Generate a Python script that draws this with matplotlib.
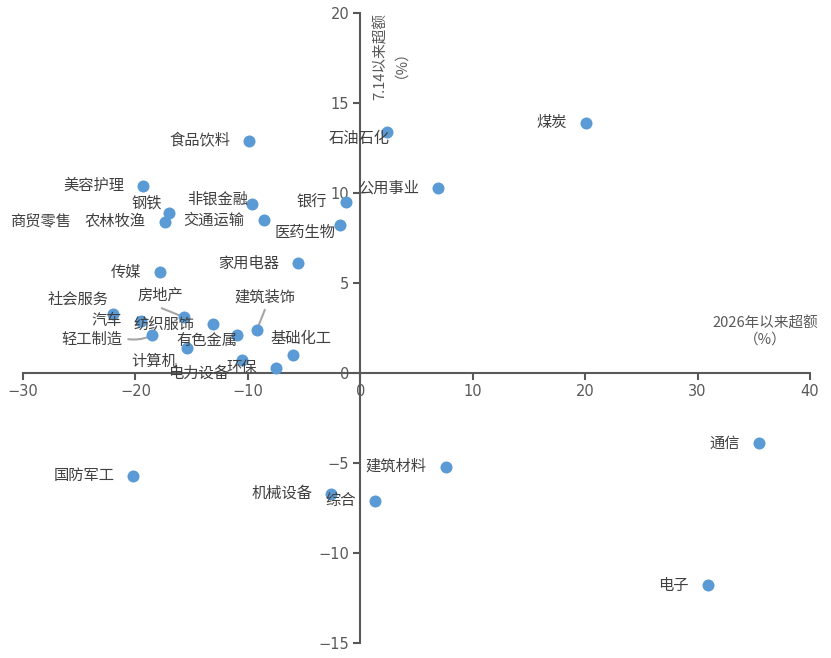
import matplotlib
matplotlib.use('Agg')
import matplotlib.pyplot as plt

plt.rcParams['font.family'] = ['Noto Sans CJK SC', 'DejaVu Sans']
plt.rcParams['axes.unicode_minus'] = True

# 行业: (2026年以来超额, 7.14以来超额)
names = ['煤炭', '石油石化', '公用事业', '食品饮料', '美容护理', '钢铁', '非银金融',
         '农林牧渔', '交通运输', '商贸零售', '银行', '医药生物', '家用电器', '传媒',
         '社会服务', '汽车', '房地产', '纺织服饰', '轻工制造', '有色金属', '建筑装饰',
         '计算机', '基础化工', '电力设备', '环保', '通信', '建筑材料', '国防军工',
         '机械设备', '综合', '电子']
x_ytd = [20.1, 2.4, 6.9, -9.9, -19.3, -17.0, -9.6,
         -17.4, -8.6, -26.6, -1.3, -1.8, -5.5, -17.8,
         -22.0, -19.5, -15.7, -13.1, -18.5, -11.0, -9.2,
         -15.4, -6.0, -10.5, -7.5, 35.5, 7.6, -20.2,
         -2.6, 1.3, 30.9]
y_since714 = [13.9, 13.4, 10.3, 12.9, 10.4, 8.9, 9.4,
              8.4, 8.5, 8.4, 9.5, 8.2, 6.1, 5.6,
              3.3, 2.9, 3.1, 2.7, 2.1, 2.1, 2.4,
              1.4, 1.0, 0.7, 0.3, -3.9, -5.2, -5.7,
              -6.7, -7.1, -11.8]

xticks = [-30, -20, -10, 0, 10, 20, 30, 40]
yticks = [-15, -10, -5, 0, 5, 10, 15, 20]

# label offsets in pixels (dx, dy up), alignment; default: left of point
default_off = (-19, 0, 'right')
label_off = {
    '石油石化': (2, -7, 'right'),
    '钢铁': (-7, 10, 'right'),
    '非银金融': (-4, 5, 'right'),
    '商贸零售': (10, 0, 'right'),
    '医药生物': (-5, -7, 'right'),
    '社会服务': (-4, 14, 'right'),
    '房地产': (-23, 22, 'center'),
    '轻工制造': (-30, -4, 'right'),
    '有色金属': (1, -5, 'right'),
    '建筑装饰': (8, 33, 'center'),
    '计算机': (-10, -14, 'right'),
    '基础化工': (8, 16, 'center'),
    '电力设备': (-13, -13, 'right'),
}
# leader lines: (start dx, dy) in pixels relative to point
leaders = {
    '房地产': (-22, 9),
    '建筑装饰': (8, 20),
    '轻工制造': (-24, -4),
}

fig = plt.figure(figsize=(8.31, 6.58), dpi=100)
ax = fig.add_axes([23 / 831, 1 - 643 / 658, (810 - 23) / 831, (643 - 13) / 658])

axis_c = '#595959'
ax.scatter(x_ytd, y_since714, s=75, color='#5B9BD5', zorder=3, linewidths=0)

px = 0.72
for n, xv, yv in zip(names, x_ytd, y_since714):
    dx, dy, ha = label_off.get(n, default_off)
    kw = {}
    if n == '商贸零售':
        kw['bbox'] = dict(facecolor='white', edgecolor='none', pad=1)
    ax.annotate(n, (xv, yv), xytext=(dx * px, dy * px), textcoords='offset points',
                ha=ha, va='center', fontsize=11, color='#404040', zorder=4, **kw)
    if n in leaders:
        lx, ly = leaders[n]
        ax.annotate('', (xv, yv), xytext=(lx * px, ly * px), textcoords='offset points',
                    arrowprops=dict(arrowstyle='-', color='#A6A6A6', lw=1.5,
                                    shrinkA=0, shrinkB=3,
                                    connectionstyle='arc3,rad=0.15' if n == '轻工制造' else 'arc3'),
                    zorder=2)

ax.set_xlim(-30, 40)
ax.set_ylim(-15, 20)
ax.set_xticks(xticks)
ax.set_yticks(yticks)
ax.spines['left'].set_position(('data', 0))
ax.spines['bottom'].set_position(('data', 0))
ax.spines['right'].set_visible(False)
ax.spines['top'].set_visible(False)
for s in ('left', 'bottom'):
    ax.spines[s].set_color(axis_c)
    ax.spines[s].set_linewidth(1.5)
ax.tick_params(axis='both', direction='out', length=5, width=1.5, color=axis_c,
               labelcolor=axis_c, labelsize=10.5, pad=3)
for lab in ax.get_xticklabels() + ax.get_yticklabels():
    lab.set_family(['Liberation Sans Narrow', 'DejaVu Sans'])

ax.text(36.0, 2.3, '2026年以来超额\n（%）', ha='center', va='center', fontsize=10.5,
        color=axis_c, linespacing=1.2)
ax.text(2.4, 20, '7.14以来超额\n（%）', ha='center', va='top', rotation=90, fontsize=10.5,
        color=axis_c, linespacing=0.85, multialignment='center')

fig.savefig('out.png', dpi=100)
